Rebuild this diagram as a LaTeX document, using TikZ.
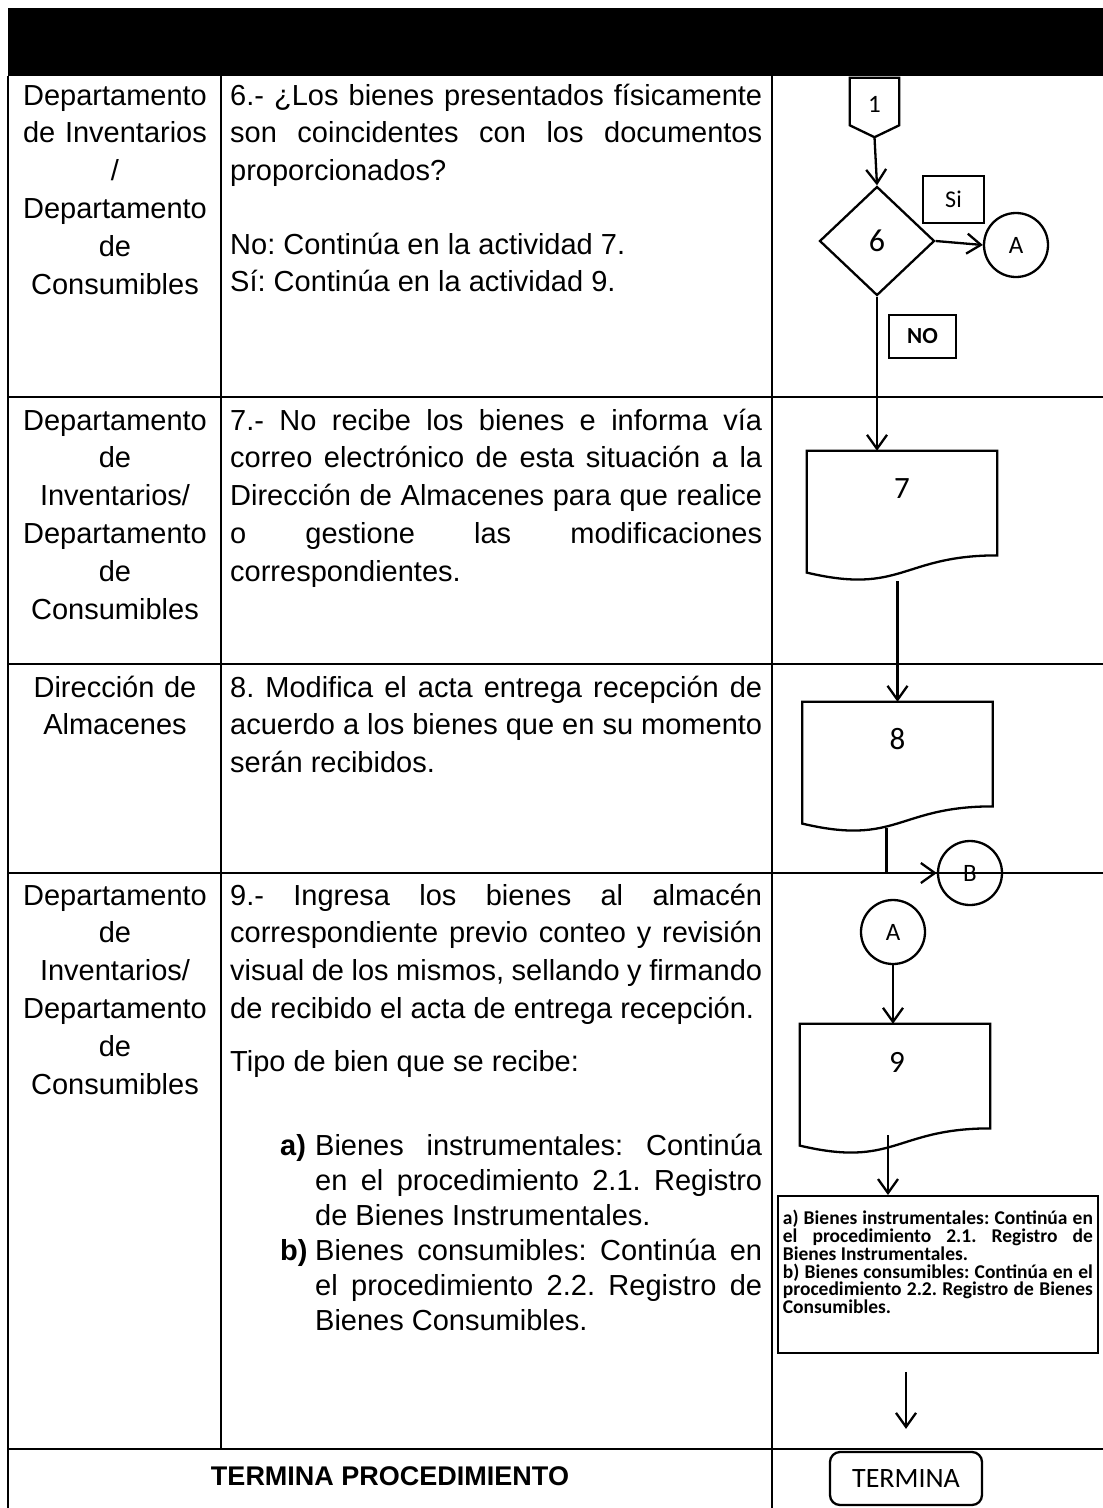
\documentclass[tikz,border=0pt]{standalone}
\usepackage{fontspec}
\setmainfont{Liberation Sans}
\newfontfamily\calfont{Carlito}
\usetikzlibrary{arrows.meta,calc,shapes.geometric}
\hyphenpenalty=10000
\exhyphenpenalty=10000
\tolerance=9999
\frenchspacing
\newcommand\docpath[1]{\draw[flowline] (#1.north west) -- (#1.north east) -- ($(#1.north east)!0.802!(#1.south east)$) .. controls ($(#1.north)!0.802!(#1.south)$) and ($(#1.north)!1.1075!(#1.south)$) .. ($(#1.north west)!0.934!(#1.south west)$) -- cycle;}
\tikzset{
  grid/.style={line width=1.6pt, black},
  flowline/.style={line width=2.3pt, black},
  arr/.style={flowline, -{Straight Barb[length=14pt,width=20pt]}},
  cell/.style={inner sep=0pt, font=\fontsize{29}{37.8}\selectfont},
  lane/.style={cell, text width=211pt, align=center, anchor=base},
  desc/.style={cell, text width=532pt, align=justify, anchor=base west},
  item/.style={desc, text width=447pt, font=\fontsize{29}{35}\selectfont},
  docnode/.style={draw=none, minimum width=190pt, minimum height=130pt, inner sep=0pt},
  ftext/.style={font=\calfont\fontsize{31}{33}\selectfont, inner sep=0pt},
  conn/.style={circle, draw, flowline, minimum size=64pt, inner sep=0pt, font=\calfont\fontsize{25}{27}\selectfont},
  tag/.style={draw, line width=1.8pt, inner sep=0pt, font=\calfont\fontsize{24}{26}\selectfont},
}
\begin{document}
\begin{tikzpicture}[x=1pt,y=-1pt]
\useasboundingbox (0,0) rectangle (1103,1508);
% header band
\fill[black] (8,8) rectangle (1103,76);
% table grid
\draw[grid] (8,76) -- (8,1508);
\draw[grid] (221,76) -- (221,1449);
\draw[grid] (772,76) -- (772,1508);
\draw[grid] (8,397) -- (1103,397);
\draw[grid] (8,664) -- (1103,664);
\draw[grid] (8,873) -- (1103,873);
\draw[grid] (8,1449) -- (1103,1449);

% ---- row 1
\node[lane] (r1a) at (115,105) {Departamento\\de Inventarios\\/\\Departamento\\de\\Consumibles};
\node[desc] (r1b) at (230,105) {6.- ¿Los bienes presentados físicamente\linebreak son coincidentes con los documentos\linebreak proporcionados?};
\node[desc] (r1c) at (230,254) {No: Continúa en la actividad 7.\\Sí: Continúa en la actividad 9.};
% ---- row 2
\node[lane] (r2a) at (115,430) {Departamento\\de\\Inventarios/\\Departamento\\de\\Consumibles};
\node[desc] (r2b) at (230,430) {7.- No recibe los bienes e informa vía\linebreak correo electrónico de esta situación a la\linebreak Dirección de Almacenes para que realice\linebreak o gestione las modificaciones\linebreak correspondientes.};
% ---- row 3
\node[lane] (r3a) at (115,697) {Dirección de\\Almacenes};
\node[desc] (r3b) at (230,697) {8. Modifica el acta entrega recepción de\linebreak acuerdo a los bienes que en su momento\linebreak serán recibidos.};
% ---- row 4
\node[lane] (r4a) at (115,905) {Departamento\\de\\Inventarios/\\Departamento\\de\\Consumibles};
\node[desc] (r4b) at (230,905) {9.- Ingresa los bienes al almacén\linebreak correspondiente previo conteo y revisión\linebreak visual de los mismos, sellando y firmando\linebreak de recibido el acta de entrega recepción.};
\node[desc] (r4c) at (230,1071) {Tipo de bien que se recibe:};
\node[cell, anchor=base west, font=\bfseries\fontsize{29}{35}\selectfont] (la) at (280,1155) {a)};
\node[item] (ia) at (315,1155) {Bienes instrumentales: Continúa\linebreak en el procedimiento 2.1. Registro\linebreak de Bienes Instrumentales.};
\node[cell, anchor=base west, font=\bfseries\fontsize{29}{35}\selectfont] (lb) at (280,1260) {b)};
\node[item] (ib) at (315,1260) {Bienes consumibles: Continúa en\linebreak el procedimiento 2.2. Registro de\linebreak Bienes Consumibles.};
% ---- row 5
\node[cell, font=\bfseries\fontsize{27}{32}\selectfont] (fin) at (390,1476) {TERMINA PROCEDIMIENTO};

% ---- flowchart
\node[draw=none, minimum width=49pt, minimum height=59pt, inner sep=0pt] (c1) at (874.5,107.5) {};
\draw[flowline] (c1.north west) -- (c1.north east) -- ($(c1.north east)!0.8!(c1.south east)$) -- (c1.south) -- ($(c1.north west)!0.8!(c1.south west)$) -- cycle;
\node[inner sep=0pt, font=\calfont\fontsize{25}{27}\selectfont] (c1t) at (874.5,104) {1};

\node[diamond, draw, flowline, minimum width=115pt, minimum height=109pt, inner sep=0pt, font=\calfont\fontsize{32}{34}\selectfont] (d6) at (877,241) {6};
\node[tag, minimum width=61pt, minimum height=47pt] (si) at (953.5,199.5) {Si};
\node[conn] (a1) at (1016,245) {A};
\node[tag, minimum width=67pt, minimum height=43pt, font=\calfont\bfseries\fontsize{23}{25}\selectfont] (no) at (922.5,336.5) {NO};

\node[docnode] (d7) at (902,516) {};
\docpath{d7}
\node[ftext] (d7t) at (902,489) {7};

\node[docnode] (d8) at (897.5,767) {};
\docpath{d8}
\node[ftext] (d8t) at (897.5,739) {8};

\node[conn] (b1) at (970,873) {B};
\node[conn] (a2) at (893,932) {A};

\node[docnode] (d9) at (895,1089) {};
\docpath{d9}
\node[ftext] (d9t) at (897,1062) {9};

\node[draw, line width=1.8pt, minimum width=320pt, minimum height=157pt, inner sep=0pt, anchor=north west] (tb) at (777,1195) {};
\node[anchor=north, inner sep=0pt, text width=310pt, align=justify, font=\calfont\bfseries\fontsize{19.5}{17.8}\selectfont] (tbt) at ($(tb.north)+(0,15)$) {a) Bienes instrumentales: Continúa en\linebreak el procedimiento 2.1. Registro de\linebreak Bienes Instrumentales.\par b) Bienes consumibles: Continúa en el\linebreak procedimiento 2.2. Registro de Bienes\linebreak Consumibles.};

\node[draw, flowline, rounded corners=10pt, minimum width=152pt, minimum height=53pt, inner sep=0pt, font=\calfont\fontsize{28}{30}\selectfont] (term) at (906,1478.5) {TERMINA};

% connectors
\coordinate (p8) at ($(d8.south)+(-11,-4)$);
\coordinate (p9) at ($(d9.south)+(-7,-19)$);
\coordinate (pt) at ($(term.north |- tb.south)+(0,18)$);
\coordinate (qt) at ($(term.north)+(0,-22)$);
\draw[arr] (c1.south) -- (d6.north);
\draw[arr] (d6.east) -- (a1.west);
\draw[arr] (d6.south) -- (d6.south |- d7.north);
\draw[arr] (d8.north |- d7.south) -- (d8.north);
\draw[arr] (p8) |- (b1.west);
\draw[arr] (a2.south) -- (a2.south |- d9.north);
\draw[arr] (p9) -- (p9 |- tb.north);
\draw[arr] (pt) -- (qt);
\end{tikzpicture}
\end{document}
